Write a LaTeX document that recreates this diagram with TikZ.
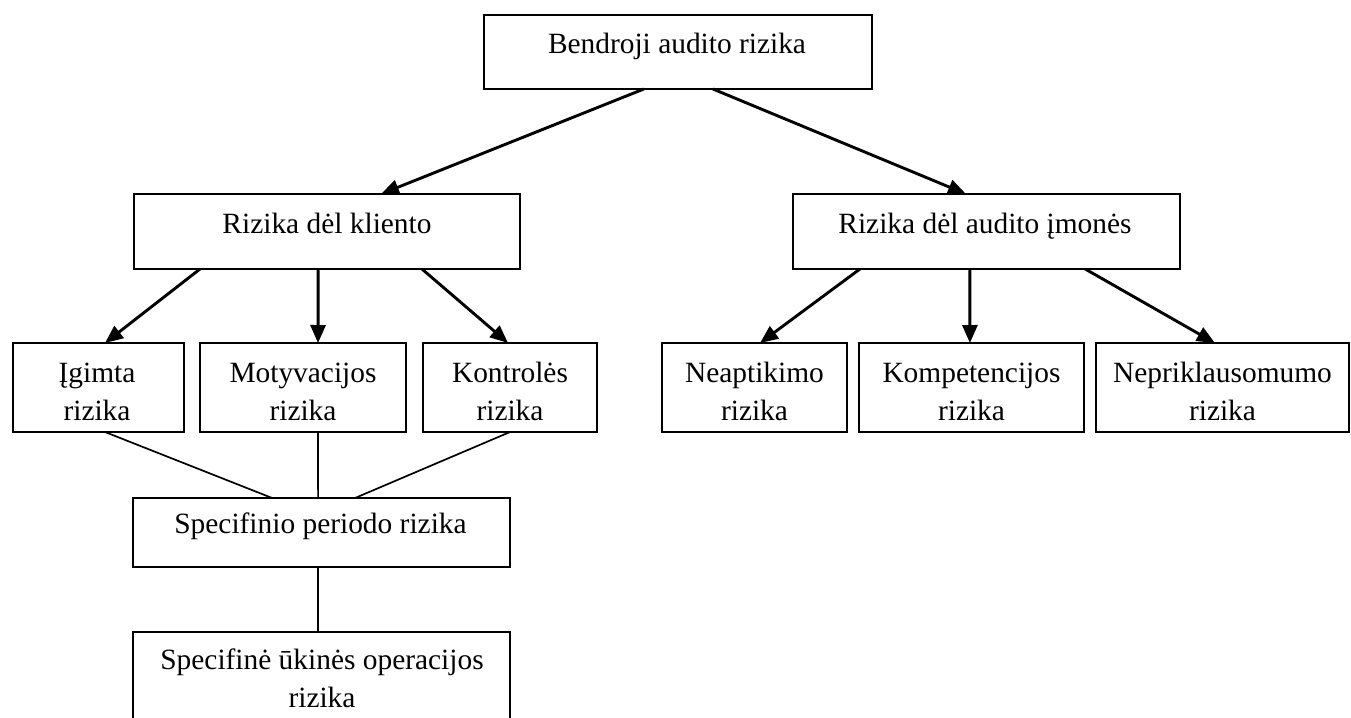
\documentclass[tikz,border=0pt]{standalone}
\usepackage{fontspec}
\setmainfont{Liberation Serif}
\usetikzlibrary{arrows.meta,calc}
\begin{document}
\begin{tikzpicture}[x=0.5pt,y=-0.5pt,
  box/.style={draw, line width=0.95pt, rectangle, inner sep=0pt, outer sep=0pt},
  lbl/.style={inner sep=0pt, outer sep=0pt, anchor=base, align=center,
              font=\fontsize{14.7}{19}\selectfont},
  arr/.style={line width=1.45pt, -{Triangle[length=9pt,width=7.5pt]}},
  link/.style={line width=0.85pt}]
\useasboundingbox (0,0) rectangle (1351,718);
\clip (0,0) rectangle (1351,718);

% level 1
\node[box, minimum width=194pt, minimum height=37pt] (top) at (678,52) {};
\node[lbl] (toptxt) at (677,53) {Bendroji audito rizika};

% level 2
\node[box, minimum width=193pt, minimum height=37.5pt] (kl) at (327,231.5) {};
\node[lbl] (kltxt) at (327,233) {Rizika dėl kliento};
\node[box, minimum width=193.5pt, minimum height=37.5pt] (im) at (986.5,231.5) {};
\node[lbl] (imtxt) at (985,233) {Rizika dėl audito įmonės};

% level 3 (base anchor sits on the second line)
\tikzset{row/.style={box, minimum height=44.5pt}}
\node[row, minimum width=85.5pt]  (ig) at (98.5,387.5) {};
\node[row, minimum width=103pt]   (mo) at (303,387.5) {};
\node[row, minimum width=87pt]    (ko) at (510,387.5) {};
\node[row, minimum width=92.5pt]  (ne) at (754.5,387.5) {};
\node[row, minimum width=112.5pt] (kp) at (971.5,387.5) {};
\node[row, minimum width=126.5pt] (np) at (1222.5,387.5) {};
\node[lbl] (igtxt) at (97,420) {Įgimta\\rizika};
\node[lbl] (motxt) at (303,420) {Motyvacijos\\rizika};
\node[lbl] (kotxt) at (510,420) {Kontrolės\\rizika};
\node[lbl] (netxt) at (754.5,420) {Neaptikimo\\rizika};
\node[lbl] (kptxt) at (971.5,420) {Kompetencijos\\rizika};
\node[lbl] (nptxt) at (1222.5,420) {Nepriklausomumo\\rizika};

% level 4 and 5
\node[box, minimum width=188.5pt, minimum height=34.5pt] (sp) at (321.5,532.5) {};
\node[lbl] (sptxt) at (320.5,533) {Specifinio periodo rizika};
\node[box, minimum width=188.5pt, minimum height=47pt] (uk) at (321.5,679) {};
\node[lbl] (uktxt) at (322,707) {Specifinė ūkinės operacijos\\rizika};

% arrows from the overall risk
\draw[arr] ($(top.south west)!0.412!(top.south east)$) -- ($(kl.north west)!0.64!(kl.north east)$);
\draw[arr] ($(top.south west)!0.59!(top.south east)$) -- ($(im.north west)!0.447!(im.north east)$);

% client-side risks
\draw[arr] ($(kl.south west)!0.171!(kl.south east)$) -- ($(ig.north west)!0.538!(ig.north east)$);
\draw[arr] ($(kl.south west)!0.477!(kl.south east)$) -- ($(mo.north west)!0.573!(mo.north east)$);
\draw[arr] ($(kl.south west)!0.746!(kl.south east)$) -- ($(ko.north west)!0.489!(ko.north east)$);

% audit-firm risks
\draw[arr] ($(im.south west)!0.173!(im.south east)$) -- ($(ne.north west)!0.53!(ne.north east)$);
\draw[arr] ($(im.south west)!0.457!(im.south east)$) -- ($(kp.north west)!0.493!(kp.north east)$);
\draw[arr] ($(im.south west)!0.755!(im.south east)$) -- ($(np.north west)!0.47!(np.north east)$);

% joining lines
\draw[link] ($(ig.south west)!0.538!(ig.south east)$) -- ($(sp.north west)!0.369!(sp.north east)$);
\draw[link] ($(mo.south west)!0.573!(mo.south east)$) -- ($(sp.north west)!0.491!(sp.north east)$);
\draw[link] ($(ko.south west)!0.5!(ko.south east)$) -- ($(sp.north west)!0.589!(sp.north east)$);
\draw[link] ($(sp.south west)!0.491!(sp.south east)$) -- ($(uk.north west)!0.491!(uk.north east)$);
\end{tikzpicture}
\end{document}
